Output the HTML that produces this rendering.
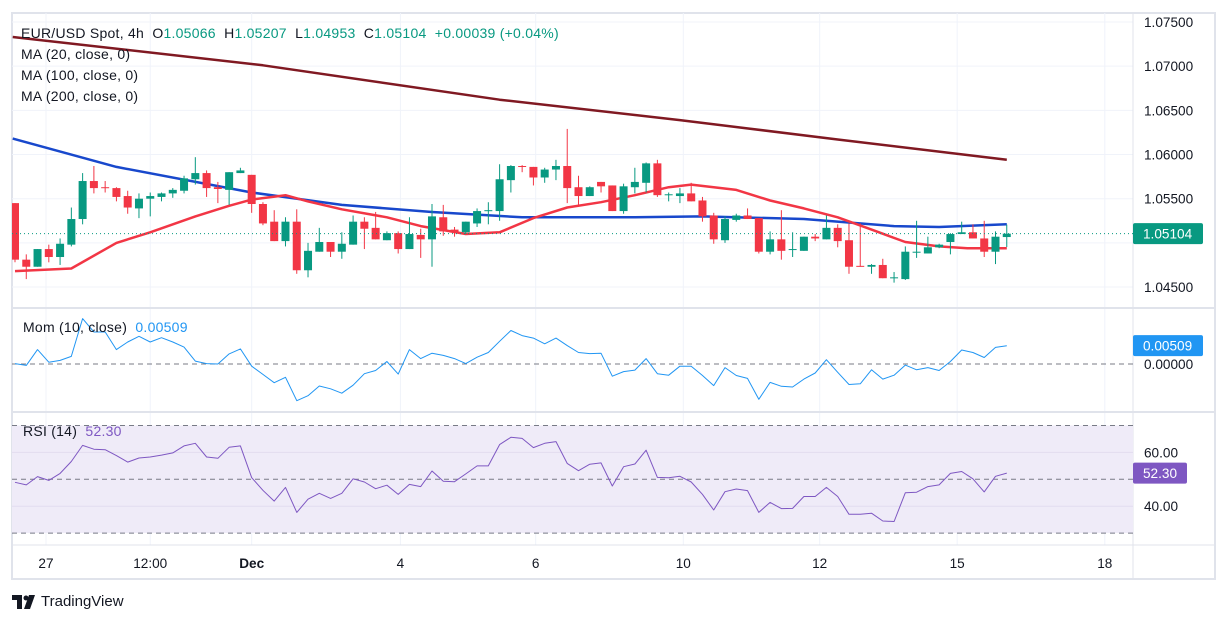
<!DOCTYPE html>
<html><head><meta charset="utf-8"><style>
html,body{margin:0;padding:0;background:#fff;}
svg{display:block;font-family:"Liberation Sans",sans-serif;}
.lg{font:14px 'Liberation Sans',sans-serif;letter-spacing:0.25px;color:#131722;}
</style></head><body>
<svg id="chart" width="1228" height="624" viewBox="0 0 1228 624">
<rect x="0" y="0" width="1228" height="624" fill="#fff"/>
<g id="grid"></g>
<g id="panes"></g>
<g id="marks"></g>
<g id="labels"></g>
</svg>
<script>
const opens=[1.0545,1.0481,1.0473,1.0493,1.0484,1.0498,1.0527,1.0570,1.0563,1.0562,1.0553,1.0539,1.0550,1.0552,1.0556,1.0559,1.0572,1.0579,1.0563,1.0560,1.0579,1.0577,1.0544,1.0524,1.0502,1.0524,1.0469,1.0490,1.0501,1.0490,1.0498,1.0524,1.0517,1.0503,1.0511,1.0493,1.0509,1.0504,1.0529,1.0515,1.0512,1.0522,1.0536,1.0536,1.0571,1.0587,1.0586,1.0574,1.0583,1.0587,1.0563,1.0553,1.0569,1.0565,1.0536,1.0563,1.0568,1.0590,1.0555,1.0553,1.0556,1.0548,1.0531,1.0503,1.0526,1.0531,1.0528,1.0490,1.0504,1.0492,1.0491,1.0507,1.0504,1.0517,1.0503,1.0474,1.0473,1.0475,1.0461,1.0459,1.0490,1.0488,1.0495,1.0501,1.0510,1.0512,1.0505,1.0490,1.05066];
const highs=[1.0545,1.0487,1.0493,1.0498,1.0505,1.0540,1.0579,1.0587,1.0570,1.0563,1.0559,1.0556,1.0557,1.0557,1.0562,1.0576,1.0597,1.0582,1.0569,1.0580,1.0585,1.0577,1.0546,1.0537,1.0529,1.0538,1.0500,1.0517,1.0501,1.0512,1.0531,1.0529,1.0535,1.0513,1.0513,1.0529,1.0516,1.0544,1.0543,1.0518,1.0524,1.0539,1.0546,1.0589,1.0588,1.0588,1.0586,1.0585,1.0594,1.0629,1.0576,1.0564,1.0569,1.0565,1.0567,1.0585,1.0591,1.0594,1.0557,1.0562,1.0568,1.0552,1.0534,1.0530,1.0533,1.0539,1.0528,1.0513,1.0537,1.0512,1.0507,1.0510,1.0531,1.0521,1.0522,1.0522,1.0476,1.0482,1.0467,1.0496,1.0525,1.0507,1.0499,1.0511,1.0524,1.0521,1.0525,1.0513,1.05207];
const lows=[1.0478,1.0459,1.0473,1.0478,1.0475,1.0496,1.0521,1.0556,1.0557,1.0547,1.0533,1.0528,1.0530,1.0547,1.0551,1.0556,1.0566,1.0552,1.0545,1.0543,1.0579,1.0534,1.0520,1.0502,1.0496,1.0465,1.0461,1.0490,1.0484,1.0482,1.0498,1.0493,1.0504,1.0503,1.0488,1.0493,1.0483,1.0473,1.0508,1.0507,1.0510,1.0518,1.0521,1.0525,1.0557,1.0580,1.0565,1.0568,1.0571,1.0545,1.0543,1.0553,1.0557,1.0536,1.0533,1.0556,1.0557,1.0552,1.0547,1.0545,1.0547,1.0524,1.0499,1.0500,1.0524,1.0527,1.0488,1.0487,1.0481,1.0484,1.0491,1.0502,1.0504,1.0495,1.0465,1.0473,1.0465,1.0460,1.0455,1.0458,1.0483,1.0488,1.0494,1.0487,1.0510,1.0505,1.0484,1.0476,1.04953];
const closes=[1.0481,1.0473,1.0493,1.0484,1.0499,1.0527,1.0570,1.0562,1.0562,1.0552,1.0540,1.0550,1.0553,1.0556,1.0560,1.0573,1.0579,1.0562,1.0561,1.0580,1.0582,1.0544,1.0522,1.0502,1.0524,1.0469,1.0491,1.0501,1.0490,1.0499,1.0524,1.0516,1.0504,1.0511,1.0493,1.0510,1.0504,1.0530,1.0513,1.0512,1.0524,1.0536,1.0537,1.0572,1.0587,1.0586,1.0574,1.0583,1.0587,1.0562,1.0553,1.0563,1.0564,1.0536,1.0564,1.0569,1.0590,1.0554,1.0555,1.0556,1.0547,1.0530,1.0504,1.0527,1.0531,1.0527,1.0490,1.0504,1.0491,1.0493,1.0507,1.0505,1.0517,1.0502,1.0473,1.0473,1.0475,1.0460,1.0461,1.0490,1.0490,1.0495,1.0498,1.0510,1.0512,1.0505,1.0490,1.0507,1.05104];
const ma20Idx=[0,5,9,12,16,19,21,24,26,29,33,36,40,43,46,49,52,55,58,60,64,67,70,73,76,79,82,84.5,88];
const ma20Val=[1.0468,1.0471,1.0500,1.0512,1.0530,1.0542,1.0549,1.0554,1.0547,1.0538,1.0529,1.0519,1.0510,1.0512,1.0528,1.0540,1.0546,1.0554,1.0563,1.0566,1.0560,1.0548,1.0539,1.0529,1.0515,1.0501,1.0496,1.0494,1.0494];
const ma100Idx=[-0.2,9,21,29,37,45,55,61,70,78,82,88];
const ma100Val=[1.0618,1.0586,1.0557,1.0543,1.0535,1.0529,1.0529,1.0530,1.0527,1.0519,1.0518,1.0521];
const ma200Idx=[-0.2,22,43,59,73,88];
const ma200Val=[1.0733,1.0701,1.0662,1.0639,1.0617,1.0594];
const momVals=[0.0001,-0.0004,0.0040,0.0005,0.0010,0.0021,0.0126,0.0089,0.0089,0.0040,0.0061,0.0077,0.0061,0.0073,0.0061,0.0047,0.0008,0.0001,0,0.0028,0.0042,-0.0006,-0.0029,-0.0052,-0.0037,-0.0102,-0.0088,-0.0061,-0.0069,-0.0081,-0.0059,-0.0027,-0.0018,0.0007,-0.0028,0.0040,0.0015,0.0030,0.0024,0.0015,0.0001,0.0019,0.0032,0.0063,0.0093,0.0079,0.0072,0.0056,0.0072,0.0051,0.0032,0.0029,0.0030,-0.0034,-0.0021,-0.0017,0.0015,-0.0027,-0.0031,-0.0006,-0.0006,-0.0032,-0.0060,-0.0010,-0.0032,-0.0040,-0.0098,-0.0051,-0.0062,-0.0064,-0.0042,-0.0025,0.0012,-0.0023,-0.0057,-0.0055,-0.0016,-0.0042,-0.0031,-0.0003,-0.0016,-0.0010,-0.0018,0.0007,0.0039,0.0032,0.0018,0.0046,0.00509];
const rsiVals=[48.9,47.9,51.0,49.6,52.2,56.6,62.6,61.2,61.0,58.8,56.4,57.9,58.3,59.0,59.8,62.4,63.4,58.3,57.8,61.9,62.4,50.6,45.9,41.9,47.0,37.7,42.6,44.8,42.9,44.8,50.2,49.0,46.5,47.8,44.4,48.1,47.3,53.1,49.3,49.1,52.0,55.0,55.0,62.9,65.6,65.2,61.8,63.4,64.0,55.9,53.2,55.6,56.1,47.5,54.7,55.7,60.8,50.7,50.6,51.1,49.0,44.4,38.6,45.4,46.4,45.8,37.7,41.4,39.1,39.2,43.6,43.6,47.0,43.6,37.0,37.0,37.4,34.5,34.3,45.0,45.2,47.3,47.9,52.2,52.9,50.2,45.3,51.1,52.3];
const priceTicks=[1.075,1.070,1.065,1.060,1.055,1.050,1.045];
const rsiTicks=[60,40];
const dateLabels=["27","12:00","Dec","4","6","10","12","15","18"];
const dateIdx=[2.75,12,21,34.2,46.2,59.3,71.4,83.6,96.7];

const NS="http://www.w3.org/2000/svg";
const L=12,R=1133,MT=13,MB=308,RT=412,RB=545;
const xOf=i=>15+i*11.27;
const yP=p=>22+(1.075-p)*8835;
const yM=v=>364-v*3600;
const yR=r=>479.3-(r-50)*2.69;
function mk(tag,attrs,parent,text){const e=document.createElementNS(NS,tag);for(const k in attrs)e.setAttribute(k,attrs[k]);if(text!==undefined)e.textContent=text;parent.appendChild(e);return e;}
const G=document.getElementById('grid'),P=document.getElementById('panes'),M=document.getElementById('marks'),T=document.getElementById('labels');

let fr=mk('rect',{x:L,y:MT,width:1215-L,height:579-MT,fill:'none',stroke:'#e0e3eb','stroke-width':2},G);


priceTicks.forEach(p=>{let l=mk('line',{x1:L,x2:R,y1:yP(p),y2:yP(p),stroke:'#f0f3fa'},G);

});
dateIdx.forEach(i=>{let l=mk('line',{x1:xOf(i),x2:xOf(i),y1:MT,y2:RB,stroke:'#f0f3fa'},G);

});
[MB,RT].forEach(y=>{let l=mk('line',{x1:L,x2:1215,y1:y,y2:y,stroke:'#e0e3eb','stroke-width':2},P);

});
let ax=mk('line',{x1:R,x2:R,y1:MT,y2:579,stroke:'#e0e3eb'},P);


let ax2=mk('line',{x1:L,x2:1215,y1:RB,y2:RB,stroke:'#e0e3eb'},P);


let band=mk('rect',{x:L,y:yR(70),width:R-L,height:yR(30)-yR(70),fill:'#efebf8'},P);


rsiTicks.forEach(r=>{let l=mk('line',{x1:L,x2:R,y1:yR(r),y2:yR(r),stroke:'#e2dcef'},P);

});
[70,50,30].forEach(r=>{let l=mk('line',{x1:L,x2:R,y1:yR(r),y2:yR(r),stroke:'#787b86','stroke-dasharray':'5,4'},P);

});
let z=mk('line',{x1:L,x2:R,y1:yM(0),y2:yM(0),stroke:'#787b86','stroke-dasharray':'5,4'},P);



const defs=mk('defs',{},M);
const cp=mk('clipPath',{id:'mainclip'},defs);mk('rect',{x:L,y:MT,width:R-L,height:MB-MT},cp);
const mg=mk('g',{'clip-path':'url(#mainclip)'},M);

function line(idx,vals,f,color,w,name,parent){
 const d=idx.map((i,k)=>(k?'L':'M')+xOf(i).toFixed(1)+','+f(vals[k]).toFixed(1)).join('');
 const p=mk('path',{d:d,fill:'none',stroke:color,'stroke-width':w,'stroke-linejoin':'round'},parent);
 
 
}
line(ma200Idx,ma200Val,yP,'#801922',2.5,'ma200-line',mg);
line(ma100Idx,ma100Val,yP,'#1848cc',2.5,'ma100-line',mg);
line(ma20Idx,ma20Val,yP,'#f23645',2.5,'ma20-line',mg);

for(let i=0;i<closes.length;i++){
 const up=closes[i]>=opens[i];const c=up?'#089981':'#f23645';const x=xOf(i);
 const g=mk('g',{},mg);
 
 
 mk('line',{x1:x,x2:x,y1:yP(highs[i]),y2:yP(lows[i]),stroke:c,'stroke-width':1},g);
 const yt=yP(Math.max(opens[i],closes[i])),yb=yP(Math.min(opens[i],closes[i]));
 mk('rect',{x:x-4,y:yt,width:8,height:Math.max(1,yb-yt),fill:c},g);
}
const lp=yP(closes[closes.length-1]);
let dl=mk('line',{x1:L,x2:R,y1:lp,y2:lp,stroke:'#089981','stroke-dasharray':'1,3'},M);



line(momVals.map((v,i)=>i),momVals,yM,'#2196f3',1,'momentum-line',M);
line(rsiVals.map((v,i)=>i),rsiVals,yR,'#7e57c2',1,'rsi-line',M);

function txt(x,y,s,attrs,name){const t=mk('text',Object.assign({x:x,y:y,'font-size':13.6,fill:'#131722'},attrs),T,s);

return t;}
priceTicks.forEach(p=>{if(Math.abs(p-1.05)>1e-6)txt(1144,yP(p)+5,p.toFixed(5),{},'price-tick-label');});
txt(1144,yM(0)+5,'0.00000',{},'momentum-tick-label');
rsiTicks.forEach(r=>txt(1144,yR(r)+5,r.toFixed(2),{},'rsi-tick-label'));
dateLabels.forEach((s,k)=>txt(xOf(dateIdx[k]),568,s,{'text-anchor':'middle','font-weight':s==='Dec'?'bold':'normal'},'date-label'));

function badge(y,w,color,s,name){const r=mk('rect',{x:R,y:y-10.5,width:w,height:21,fill:color,rx:2},T);


txt(R+10,y+5,s,{fill:'#fff'},name+'-text');}
badge(lp,70,'#089981',closes[closes.length-1].toFixed(5),'last-price-badge');
badge(yM(momVals[momVals.length-1]),70,'#2196f3',momVals[momVals.length-1].toFixed(5),'momentum-badge');
badge(yR(rsiVals[rsiVals.length-1]),54,'#7e57c2',rsiVals[rsiVals.length-1].toFixed(2),'rsi-badge');
</script>
<div class="lg" style="position:absolute;left:21px;top:23px;line-height:21px;">
<div>EUR/USD Spot, 4h&nbsp; O<span style="color:#089981">1.05066</span>&nbsp; H<span style="color:#089981">1.05207</span>&nbsp; L<span style="color:#089981">1.04953</span>&nbsp; C<span style="color:#089981">1.05104</span>&nbsp; <span style="color:#089981">+0.00039 (+0.04%)</span></div>
<div>MA (20, close, 0)</div>
<div>MA (100, close, 0)</div>
<div>MA (200, close, 0)</div>
</div>
<div class="lg" style="position:absolute;left:23px;top:319px;">Mom (10, close)&nbsp; <span style="color:#2196f3">0.00509</span></div>
<div class="lg" style="position:absolute;left:23px;top:423px;">RSI (14)&nbsp; <span style="color:#7e57c2">52.30</span></div>
<div style="position:absolute;left:12px;top:593px;font:15px 'Liberation Sans',sans-serif;color:#131722;display:flex;align-items:center;">
<svg width="26" height="14" viewBox="0 0 26 14"><path d="M0 0h10v14H5V5H0z" fill="#131722"/><circle cx="14" cy="3" r="2.5" fill="#131722"/><path d="M17 0h6l-5 14h-6z" fill="#131722"/></svg>
<span style="margin-left:3px;">TradingView</span></div>
</body></html>
